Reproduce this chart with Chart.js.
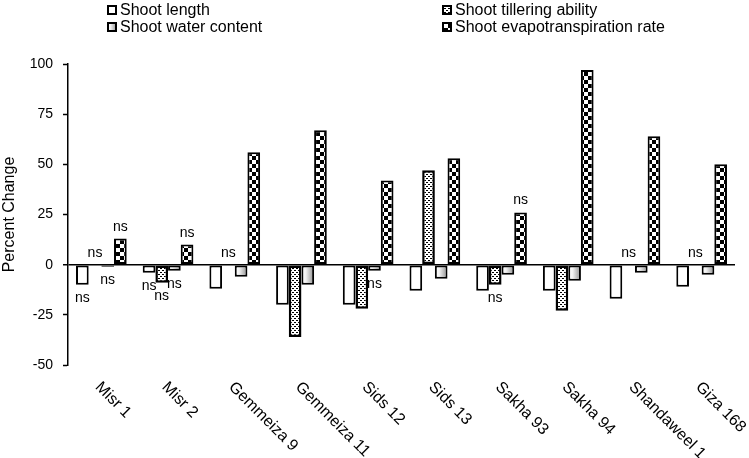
<!DOCTYPE html>
<html><head><meta charset="utf-8">
<script src="https://cdn.jsdelivr.net/npm/chart.js@4"></script>
<style>html,body{margin:0;padding:0;background:#fff}#wrap{width:749px;height:458px;position:relative}</style>
</head><body><div id="wrap"><canvas id="c"></canvas></div>
<script>
const categories = ['Misr 1','Misr 2','Gemmeiza 9','Gemmeiza 11','Sids 12','Sids 13','Sakha 93','Sakha 94','Shandaweel 1','Giza 168'];
const seriesNames = ['Shoot length','Shoot tillering ability','Shoot water content','Shoot evapotranspiration rate'];
const shootLength = [-10,-4,-12,-20,-20,-13,-13,-13,-17,-11];
const shootTillering = [0,-9,0,-36,-22,47,-10,-23,0,0];
const shootWater = [-1,-3,-6,-10,-3,-7,-5,-8,-4,-5];
const shootEvap = [13,10,56,67,42,53,26,97,64,50];
const nsLength = [1,1,0,0,0,0,0,0,0,0];
const nsTillering = [1,1,1,0,0,0,1,0,1,1];
const nsWater = [1,1,0,0,1,0,0,0,0,0];
const nsEvap = [1,1,0,0,0,0,1,0,0,0];
const yMin = -50, yMax = 100, yStep = 25;

const FONT = '"Liberation Sans", Arial, sans-serif';

function makeTile(w, h, draw) {
  const cv = document.createElement('canvas'); cv.width = w; cv.height = h;
  const c = cv.getContext('2d'); c.fillStyle = '#fff'; c.fillRect(0,0,w,h); c.fillStyle = '#000'; draw(c);
  return cv;
}
const checkTile = makeTile(8, 8, c => { c.fillRect(0,0,4,4); c.fillRect(4,4,4,4); });
const dotTile = makeTile(4, 4, c => { c.fillRect(0,0,2,1); c.fillRect(2,2,2,1); });
const tmpCtx = document.createElement('canvas').getContext('2d');
const checkPattern = tmpCtx.createPattern(checkTile, 'repeat');
const dotPattern = tmpCtx.createPattern(dotTile, 'repeat');

function waterGradient(ctx, x0, x1) {
  const g = ctx.createLinearGradient(x0, 0, x1, 0);
  g.addColorStop(0, '#ffffff');
  g.addColorStop(0.35, '#f2f2f2');
  g.addColorStop(1, '#8c8c8c');
  return g;
}

const nsFlags = [nsLength, nsTillering, nsWater, nsEvap];

const gradientPlugin = {
  id: 'waterGrad',
  beforeDatasetsDraw(chart) {
    const meta = chart.getDatasetMeta(2);
    meta.data.forEach(el => {
      const p = el.getProps(['x','width'], true);
      const g = waterGradient(chart.ctx, p.x - p.width/2, p.x + p.width/2);
      el.options = Object.assign({}, el.options, {backgroundColor: g});
    });
  }
};

const nsPlugin = {
  id: 'nsLabels',
  afterDatasetsDraw(chart) {
    const ctx = chart.ctx;
    ctx.save();
    ctx.font = '14px ' + FONT;
    ctx.fillStyle = '#000';
    ctx.textAlign = 'center';
    ctx.textBaseline = 'alphabetic';
    chart.data.datasets.forEach((ds, di) => {
      const meta = chart.getDatasetMeta(di);
      meta.data.forEach((el, i) => {
        if (!nsFlags[di][i]) return;
        const p = el.getProps(['x','y','base'], true);
        const v = ds.data[i];
        if (v >= 0) ctx.fillText('ns', p.x, p.y - 8);
        else ctx.fillText('ns', p.x, p.y + 17);
      });
    });
    ctx.restore();
  }
};

const xLabelPlugin = {
  id: 'xLabels',
  afterDraw(chart) {
    const ctx = chart.ctx, xs = chart.scales.x, area = chart.chartArea;
    ctx.save();
    ctx.font = '16px ' + FONT;
    ctx.fillStyle = '#000';
    ctx.textAlign = 'left';
    ctx.textBaseline = 'top';
    categories.forEach((lab, i) => {
      const x = xs.getPixelForValue(i);
      ctx.save();
      ctx.translate(x + 2, area.bottom + 14);
      ctx.rotate(Math.PI / 4);
      ctx.fillText(lab, 0, 0);
      ctx.restore();
    });
    ctx.restore();
  }
};

const legendPlugin = {
  id: 'customLegend',
  afterDraw(chart) {
    const ctx = chart.ctx;
    const cols = [107, 442];
    const rows = [10, 27];
    const items = [
      {name: seriesNames[0], fill: '#fff', col: 0, row: 0},
      {name: seriesNames[1], fill: dotPattern, col: 1, row: 0},
      {name: seriesNames[2], fill: 'grad', col: 0, row: 1},
      {name: seriesNames[3], fill: checkPattern, col: 1, row: 1}
    ];
    ctx.save();
    ctx.font = '16px ' + FONT;
    ctx.textBaseline = 'middle';
    ctx.textAlign = 'left';
    items.forEach(it => {
      const x = cols[it.col], y = rows[it.row];
      const s = 10;
      ctx.fillStyle = it.fill === 'grad' ? waterGradient(ctx, x, x + s) : it.fill;
      ctx.fillRect(x, y - s/2, s, s);
      ctx.lineWidth = 2;
      ctx.strokeStyle = '#000';
      ctx.strokeRect(x + 1, y - s/2 + 1, s - 2, s - 2);
      ctx.fillStyle = '#000';
      ctx.fillText(it.name, x + 13, y + 1);
    });
    ctx.restore();
  }
};

new Chart(document.getElementById('c'), {
  type: 'bar',
  data: {
    labels: categories,
    datasets: [
      {label: seriesNames[0], data: shootLength, backgroundColor: '#fff', borderColor: '#000', borderWidth: 2},
      {label: seriesNames[1], data: shootTillering, backgroundColor: dotPattern, borderColor: '#000', borderWidth: 2.5},
      {label: seriesNames[2], data: shootWater, backgroundColor: '#ccc', borderColor: '#000', borderWidth: 2},
      {label: seriesNames[3], data: shootEvap, backgroundColor: checkPattern, borderColor: '#000', borderWidth: 2}
    ]
  },
  options: {
    responsive: true,
    maintainAspectRatio: false,
    animation: false,
    layout: {padding: {top: 64, bottom: 93, right: 14, left: 0}},
    datasets: {bar: {categoryPercentage: 0.76, barPercentage: 1, borderSkipped: false}},
    plugins: {legend: {display: false}, tooltip: {enabled: false}},
    scales: {
      x: {display: false},
      y: {
        min: yMin, max: yMax,
        afterFit: s => { s.width = 68; },
        ticks: {stepSize: yStep, color: '#000', font: {size: 14, family: FONT}, padding: 10},
        grid: {
          color: c => (c.tick && c.tick.value === 0) ? '#000' : 'rgba(0,0,0,0)',
          lineWidth: c => (c.tick && c.tick.value === 0) ? 1.5 : 1,
          tickColor: '#000', tickLength: 5, tickWidth: 1.5, drawTicks: true
        },
        border: {display: true, color: '#000', width: 1.5},
        title: {display: true, text: 'Percent Change', color: '#000', font: {size: 16, family: FONT}, padding: {top: 0, bottom: 2}}
      }
    }
  },
  plugins: [gradientPlugin, nsPlugin, xLabelPlugin, legendPlugin]
});
</script></body></html>
